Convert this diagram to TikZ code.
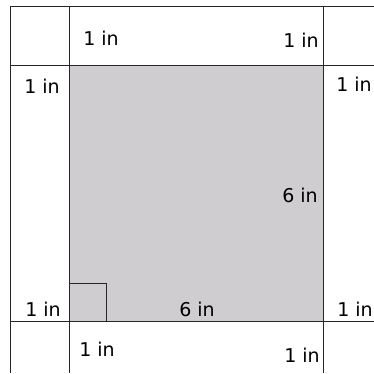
\documentclass[tikz,border=0pt]{standalone}
\usepackage{fontspec}
\setmainfont{DejaVu Sans}
\usetikzlibrary{calc,positioning}
\definecolor{paper}{RGB}{207,205,207}
\tikzset{lbl/.style={inner sep=0pt,font=\fontsize{19}{22}\selectfont}}
\begin{document}
\begin{tikzpicture}[x=1pt,y=-1pt,line width=0.9pt]
\useasboundingbox(0,0)rectangle(374,373);
\coordinate(tl)at(69,65);\coordinate(br)at(323,321);
\filldraw[fill=paper,draw=black!85](tl)rectangle(br);
\draw[black!85](10,373)--(10,6)--(374,6);
\draw[black!85](69,6)--(69,373);
\draw[black!85](323,6)--(323,373);
\draw[black!85](10,65)--(374,65);
\draw[black!85](10,321)--(374,321);
\draw[black!85](69,283)-|(106,321);
% margins
\node[lbl](mt1)at(101,38){1 in};
\node[lbl](mt2)at(301,40){1 in};
\node[lbl](ml1)at(42,86){1 in};
\node[lbl](mr1)at(354,84){1 in};
\node[lbl](ml2)at(43,309){1 in};
\node[lbl](mr2)at(355,309){1 in};
\node[lbl](mb1)at(97,349){1 in};
\node[lbl](mb2)at(302,355){1 in};
% page
\node[lbl](w)at(197,309){6 in};
\node[lbl](h)at(300,195){6 in};
\end{tikzpicture}
\end{document}
